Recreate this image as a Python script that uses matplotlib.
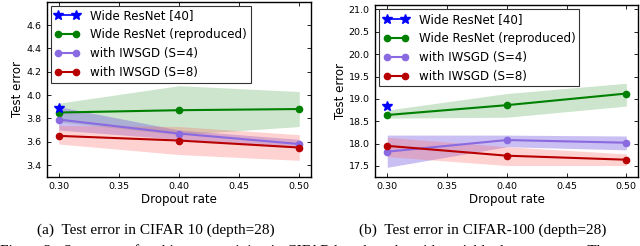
import matplotlib

matplotlib.use("Agg")
import matplotlib.pyplot as plt

# dropout rates on x
dropout = [0.30, 0.40, 0.50]

# CIFAR-10 (depth=28)
c10_paper = [3.89]
c10_wrn = [3.85, 3.87, 3.88]
c10_wrn_lo = [3.77, 3.66, 3.73]
c10_wrn_hi = [3.93, 4.08, 4.03]
c10_s4 = [3.79, 3.67, 3.58]
c10_s4_lo = [3.70, 3.62, 3.55]
c10_s4_hi = [3.90, 3.70, 3.62]
c10_s8 = [3.65, 3.61, 3.55]
c10_s8_lo = [3.58, 3.49, 3.44]
c10_s8_hi = [3.74, 3.73, 3.66]

# CIFAR-100 (depth=28)
c100_paper = [18.85]
c100_wrn = [18.64, 18.86, 19.12]
c100_wrn_lo = [18.57, 18.59, 18.84]
c100_wrn_hi = [18.75, 19.12, 19.35]
c100_s4 = [17.82, 18.08, 18.02]
c100_s4_lo = [17.47, 17.93, 17.86]
c100_s4_hi = [18.19, 18.19, 18.17]
c100_s8 = [17.95, 17.73, 17.64]
c100_s8_lo = [17.71, 17.51, 17.51]
c100_s8_hi = [18.14, 17.93, 17.77]

labels = ["Wide ResNet [40]", "Wide ResNet (reproduced)",
          "with IWSGD (S=4)", "with IWSGD (S=8)"]

GREEN = "#008000"
PURPLE = "#8a6ae0"
RED = "#b80000"
BLUE = "#0000ff"


def panel(ax, paper, wrn, wrn_lo, wrn_hi, s4, s4_lo, s4_hi, s8, s8_lo, s8_hi):
    ax.fill_between(dropout, wrn_lo, wrn_hi, color=GREEN, alpha=0.2, lw=0)
    ax.fill_between(dropout, s4_lo, s4_hi, color="#7b5fe0", alpha=0.4, lw=0)
    ax.fill_between(dropout, s8_lo, s8_hi, color="#ff6b6b", alpha=0.3, lw=0)
    ax.plot(dropout[:1], paper, "*-", color=BLUE, ms=7, lw=1.2,
            mec=BLUE, label=labels[0], zorder=5)
    ax.plot(dropout, wrn, "o-", color=GREEN, ms=4.5, lw=1.5, mec=GREEN,
            label=labels[1])
    ax.plot(dropout, s4, "o-", color=PURPLE, ms=4.5, lw=1.5, mec=PURPLE,
            label=labels[2])
    ax.plot(dropout, s8, "o-", color=RED, ms=4.5, lw=1.5, mec=RED,
            label=labels[3])
    ax.set_xlim(0.29, 0.51)
    ax.set_xticks([0.30, 0.35, 0.40, 0.45, 0.50])
    ax.set_xticklabels(["0.30", "0.35", "0.40", "0.45", "0.50"])
    ax.tick_params(direction="in", top=True, right=True, labelsize=6.8,
                   length=3, width=0.6, pad=4)
    for s in ax.spines.values():
        s.set_linewidth(1.0)
    ax.set_xlabel("Dropout rate", fontsize=8.5, labelpad=1)
    ax.set_ylabel("Test error", fontsize=8.5, labelpad=1.5)
    leg = ax.legend(loc="upper left", fontsize=8.6, numpoints=2,
                    handlelength=2.1, fancybox=False, framealpha=1,
                    edgecolor="#333333", borderpad=0.3, labelspacing=0.5,
                    borderaxespad=0.35, handletextpad=0.9)
    leg.get_frame().set_linewidth(0.8)


fig = plt.figure(figsize=(6.4, 2.46), dpi=100)
ax1 = fig.add_axes([46.7 / 640, 69.3 / 246, 264.6 / 640, 175 / 246])
ax2 = fig.add_axes([375.3 / 640, 69.3 / 246, 263 / 640, 171.7 / 246])

panel(ax1, c10_paper, c10_wrn, c10_wrn_lo, c10_wrn_hi, c10_s4, c10_s4_lo,
      c10_s4_hi, c10_s8, c10_s8_lo, c10_s8_hi)
ax1.set_ylim(3.3, 4.8)
ax1.set_yticks([3.4, 3.6, 3.8, 4.0, 4.2, 4.4, 4.6])

panel(ax2, c100_paper, c100_wrn, c100_wrn_lo, c100_wrn_hi, c100_s4,
      c100_s4_lo, c100_s4_hi, c100_s8, c100_s8_lo, c100_s8_hi)
ax2.set_ylim(17.26, 21.1)
ax2.set_yticks([17.5, 18.0, 18.5, 19.0, 19.5, 20.0, 20.5, 21.0])

serif = ["Liberation Serif", "DejaVu Serif"]
fig.text(156 / 640, 1 - 230 / 246, "(a)  Test error in CIFAR 10 (depth=28)",
         ha="center", va="center", fontsize=11, family=serif)
fig.text(483 / 640, 1 - 230 / 246, "(b)  Test error in CIFAR-100 (depth=28)",
         ha="center", va="center", fontsize=11, family=serif)
# first line of the figure caption, cut off by the crop as in the source
fig.text(0.0, 1 - 244 / 246,
         "Figure 3:  Summary of architecture training in CIFAR benchmarks "
         "with variable dropout rates.  The",
         ha="left", va="top", fontsize=11, family=serif)

fig.savefig("out.png", dpi=100)
